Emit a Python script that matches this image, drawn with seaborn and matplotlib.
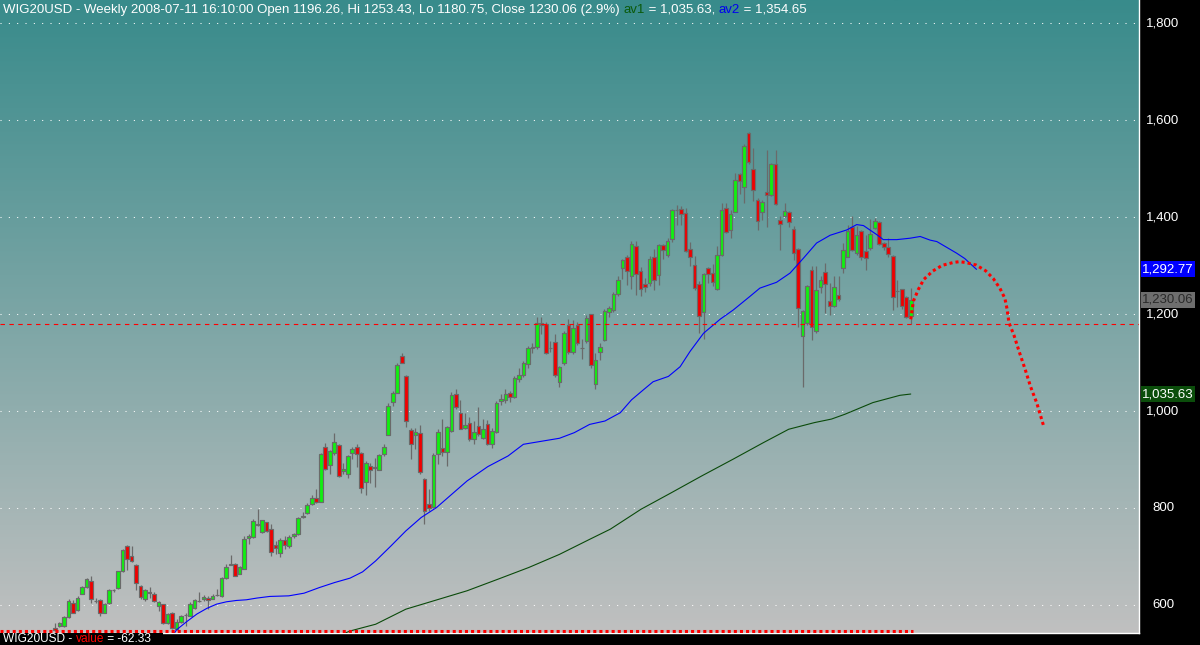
import numpy as np
import pandas as pd
import matplotlib
matplotlib.use("Agg")
import matplotlib.pyplot as plt
import matplotlib.transforms as mtransforms
from matplotlib import font_manager
from matplotlib.patches import Rectangle
import seaborn as sns

# weekly candles, index 0 = first bar on the left
opens = [554, 558, 558, 575, 605, 591, 624, 637, 651, 609,
         610, 585, 604, 631, 635, 670, 723, 701, 684, 640,
         613, 627, 624, 598, 602, 563, 585, 551, 565, 579,
         578, 595, 608, 613, 615, 613, 622, 620, 657, 684,
         686, 665, 675, 738, 740, 766, 752, 771, 757, 725,
         708, 734, 722, 742, 746, 783, 791, 808, 822, 813,
         927, 889, 915, 931, 876, 870, 915, 926, 915, 854,
         887, 884, 880, 913, 952, 1020, 1038, 1115, 1073, 962,
         951, 956, 861, 808, 803, 913, 925, 917, 959, 1036,
         997, 966, 975, 942, 970, 944, 973, 932, 958, 1022,
         1023, 1038, 1030, 1066, 1074, 1098, 1131, 1132, 1182, 1180,
         1131, 1142, 1061, 1099, 1177, 1123, 1177, 1131, 1144, 1200,
         1057, 1122, 1147, 1205, 1209, 1241, 1295, 1318, 1280, 1341,
         1289, 1262, 1264, 1319, 1281, 1343, 1322, 1355, 1415, 1417,
         1408, 1334, 1302, 1263, 1204, 1295, 1285, 1252, 1322, 1420,
         1374, 1412, 1489, 1462, 1574, 1499, 1435, 1412, 1452, 1445,
         1510, 1395, 1402, 1411, 1376, 1334, 1156, 1182, 1291, 1166,
         1256, 1287, 1228, 1218, 1240, 1295, 1319, 1380, 1326, 1372,
         1331, 1336, 1378, 1391, 1347, 1339, 1321, 1249, 1252, 1235,
         1196.26]
highs = [563, 565, 578, 613, 611, 620, 639, 657, 661, 616,
         613, 604, 633, 633, 671, 717, 725, 723, 686, 642,
         633, 637, 628, 609, 603, 585, 587, 572, 580, 585,
         607, 613, 627, 621, 620, 624, 633, 659, 685, 703,
         688, 681, 743, 747, 778, 798, 776, 772, 767, 732,
         738, 742, 745, 750, 782, 792, 810, 827, 839, 915,
         935, 921, 955, 933, 894, 909, 927, 932, 916, 898,
         894, 904, 911, 932, 1017, 1042, 1100, 1120, 1074, 966,
         966, 971, 862, 839, 915, 963, 985, 970, 1040, 1045,
         1023, 996, 989, 980, 1008, 985, 983, 966, 1022, 1035,
         1045, 1042, 1072, 1090, 1104, 1135, 1140, 1195, 1195, 1185,
         1145, 1160, 1093, 1165, 1190, 1188, 1185, 1150, 1198, 1200,
         1120, 1140, 1210, 1218, 1245, 1278, 1315, 1322, 1352, 1352,
         1298, 1275, 1320, 1335, 1346, 1345, 1357, 1418, 1425, 1423,
         1420, 1350, 1320, 1268, 1286, 1298, 1304, 1340, 1430, 1430,
         1415, 1491, 1491, 1552, 1576, 1543, 1440, 1436, 1539, 1512,
         1539, 1402, 1429, 1414, 1382, 1336, 1209, 1261, 1299, 1299,
         1278, 1306, 1264, 1278, 1278, 1347, 1385, 1403, 1383, 1374,
         1364, 1396, 1398, 1392, 1350, 1357, 1323, 1271, 1252, 1237,
         1253.43]
lows = [547, 556, 556, 574, 584, 589, 623, 635, 605, 604,
        578, 584, 602, 627, 633, 668, 673, 690, 632, 614,
        609, 616, 606, 589, 561, 561, 552, 549, 563, 558,
        577, 592, 606, 609, 592, 613, 620, 618, 655, 683,
        660, 664, 674, 726, 738, 764, 750, 752, 702, 705,
        700, 716, 718, 738, 744, 779, 788, 806, 810, 812,
        880, 870, 909, 865, 870, 863, 901, 886, 831, 828,
        853, 843, 878, 908, 951, 1010, 1037, 1099, 968, 901,
        922, 870, 767, 795, 801, 891, 908, 887, 958, 1004,
        963, 963, 939, 932, 949, 942, 931, 925, 955, 1012,
        1018, 1020, 1028, 1060, 1070, 1090, 1120, 1128, 1160, 1118,
        1122, 1070, 1050, 1095, 1118, 1118, 1136, 1108, 1141, 1090,
        1045, 1105, 1145, 1195, 1205, 1238, 1272, 1260, 1252, 1240,
        1238, 1246, 1258, 1250, 1260, 1315, 1318, 1350, 1385, 1385,
        1328, 1300, 1250, 1161, 1149, 1265, 1258, 1250, 1320, 1368,
        1357, 1410, 1448, 1429, 1510, 1433, 1374, 1395, 1381, 1443,
        1426, 1333, 1400, 1381, 1312, 1174, 1051, 1178, 1148, 1161,
        1244, 1203, 1199, 1216, 1227, 1285, 1318, 1330, 1323, 1312,
        1292, 1333, 1376, 1343, 1333, 1319, 1209, 1216, 1210, 1192,
        1180.75]
closes = [549, 563, 575, 609, 585, 616, 637, 655, 614, 608,
          585, 602, 632, 632, 670, 715, 695, 692, 647, 618,
          632, 626, 609, 606, 563, 583, 554, 565, 577, 580,
          602, 610, 609, 618, 610, 620, 622, 657, 680, 685,
          661, 678, 736, 742, 774, 767, 775, 753, 709, 719,
          735, 725, 740, 746, 779, 784, 806, 822, 813, 911,
          882, 918, 937, 866, 882, 908, 923, 911, 841, 893,
          880, 885, 909, 927, 1011, 1038, 1096, 1100, 979, 933,
          958, 874, 795, 801, 909, 958, 917, 968, 1034, 1008,
          964, 972, 942, 958, 953, 964, 932, 960, 1018, 1025,
          1035, 1030, 1068, 1074, 1100, 1130, 1132, 1182, 1178, 1120,
          1131, 1075, 1091, 1161, 1122, 1171, 1140, 1131, 1192, 1096,
          1106, 1133, 1206, 1212, 1241, 1271, 1311, 1290, 1344, 1283,
          1252, 1256, 1315, 1271, 1342, 1333, 1352, 1415, 1415, 1407,
          1331, 1318, 1254, 1196, 1283, 1284, 1266, 1322, 1416, 1370,
          1406, 1477, 1474, 1547, 1514, 1457, 1392, 1431, 1446, 1510,
          1427, 1387, 1413, 1390, 1326, 1213, 1206, 1258, 1174, 1251,
          1271, 1263, 1218, 1256, 1231, 1333, 1372, 1333, 1364, 1318,
          1316, 1365, 1393, 1345, 1339, 1324, 1236, 1249, 1218, 1194,
          1230.06]

# moving averages (bar index, value)
av2_x = [26.4, 27.0, 29.2, 31.5, 33.7, 35.9, 38.1, 40.3, 42.5, 44.8, 47.7, 51.9,
         55.3, 58.7, 62.1, 65.5, 68.3, 71.2, 74.6, 77.9, 81.3, 84.7, 88.1, 91.5,
         96.1, 100.6, 104.0, 108.5, 112.0, 115.3, 118.7, 122.1, 125.5, 128.0,
         130.6, 132.8, 136.2, 138.8, 141.0, 144.0, 147.7, 150.6, 154.3, 156.5,
         160.2, 163.2, 166.2, 169.1, 172.1, 175.8, 178.0, 179.5, 182.5, 183.9,
         186.9, 189.9, 192.1, 194.3, 195.8, 198.0, 200.2, 202.0, 203.5, 204.6]
av2_v = [541, 549.6, 566, 582, 593.6, 602.5, 607.3, 610, 611.4, 614.9, 618.3, 619.5,
         625, 636.6, 647, 656, 669, 691.6, 722.5, 753.4, 781, 801.5, 829, 856.5,
         886, 908, 932, 939, 944.4, 956, 973, 980, 997, 1023.6,
         1044, 1061, 1072, 1092, 1123.5, 1161, 1190, 1209, 1237, 1254,
         1266, 1285, 1316, 1347, 1363, 1374, 1385, 1383, 1364, 1354,
         1354, 1357, 1360.5, 1353, 1350, 1338, 1326, 1315, 1302, 1292.77]
av1_x = [64.0, 65.5, 71.2, 77.9, 84.7, 91.5, 98.4, 105.2, 112.0, 118.7, 123.3,
         130.1, 136.9, 143.6, 150.5, 157.3, 162.9, 168.6, 172.4, 175.4, 181.6,
         187.6, 190.0]
av1_v = [541, 547, 561, 592, 611, 630, 654, 678, 705, 736, 757,
         798, 832.4, 866.8, 901, 935.5, 963, 976.7, 984, 994, 1018,
         1033, 1035.63]

# hand-drawn projection
proj_x = [190.0, 190.6, 191.7, 192.9, 194.9, 197.0, 199.5, 200.8, 202.1, 204.5,
          206.6, 208.3, 209.8, 210.9, 211.4, 211.8, 212.9, 214.1, 215.4, 216.6,
          218.0, 219.5]
proj_v = [1189.7, 1227.5, 1251.5, 1272, 1289.3, 1301, 1307, 1308.5, 1307, 1301.7,
          1290, 1274, 1253.6, 1233, 1210.3, 1182.8, 1157.4, 1122.4, 1086.6, 1050.9,
          1016.6, 969.9]

grid_levels = [600, 800, 1000, 1200, 1400, 1600, 1800]
grid_labels = ["600", "800", "1,000", "1,200", "1,400", "1,600", "1,800"]
last_low = 1180.75
last_close = 1230.06
av1_last = 1035.63
av2_last = 1292.77
value_line = 546.5

sns.set_style("white")
fams = {f.name for f in font_manager.fontManager.ttflist}
if "Liberation Sans Narrow" in fams:
    font, fs = "Liberation Sans Narrow", 10
else:
    font, fs = "Liberation Sans", 9.5
plt.rcParams["font.family"] = [font, "DejaVu Sans"]

W, H = 1200, 645
fig = plt.figure(figsize=(12, 6.45), dpi=100, facecolor="black")
ax = fig.add_axes([0, 12 / H, 1139 / W, 633 / H])

xmin, xmax = -12.21, 240.68
ymin, ymax = 542.9, 1848.1

# background gradient teal -> grey
top = np.array([56, 139, 139]) / 255
bot = np.array([192, 192, 192]) / 255
t = np.linspace(0, 1, 256)[:, None, None]
grad = top * (1 - t) + bot * t
ax.imshow(grad, extent=[xmin, xmax, ymin, ymax], aspect="auto", zorder=0)

for v in grid_levels:
    ax.axhline(v, color="white", lw=0.75, ls=(0, (1, 7)), zorder=1)

df = pd.DataFrame({"o": opens, "h": highs, "l": lows, "c": closes})
df["i"] = np.arange(len(df))
up = df[df.c >= df.o]
dn = df[df.c < df.o]
edge = "#6a6a6a"
ax.vlines(df.i, df.l, df.h, color=edge, lw=0.9, zorder=2)
ax.bar(up.i, up.c - up.o, bottom=up.o, width=0.8, color="#10f010",
       edgecolor=edge, lw=0.85, zorder=3)
ax.bar(dn.i, dn.o - dn.c, bottom=dn.c, width=0.8, color="#f00000",
       edgecolor=edge, lw=0.85, zorder=3)

sns.lineplot(x=av2_x, y=av2_v, ax=ax, color="#0000ff", lw=0.8, sort=False,
             estimator=None, zorder=4)
sns.lineplot(x=av1_x, y=av1_v, ax=ax, color="#0a4a0a", lw=0.8, sort=False,
             estimator=None, zorder=4)

ax.axhline(last_low, color="red", lw=0.8, ls=(0, (4, 4)), zorder=4)
ax.plot(proj_x, proj_v, color="red", lw=2.2, ls=(0, (1, 1)), zorder=5)
ax.hlines(value_line, xmin, 190.5, color="red", lw=2.2, ls=(0, (1, 1)), zorder=5)

ax.set_xlim(xmin, xmax)
ax.set_ylim(ymin, ymax)
ax.set_xticks([])
ax.set_yticks([])
for s in ["left", "top"]:
    ax.spines[s].set_visible(False)
for s in ["right", "bottom"]:
    ax.spines[s].set_color("white")
    ax.spines[s].set_linewidth(1)

# right-hand price labels
trans = mtransforms.blended_transform_factory(fig.transFigure, ax.transData)
for v, lab in zip(grid_levels, grid_labels):
    ax.text(1163 / W, v, lab, transform=trans, ha="center", va="center",
            color="white", fontsize=fs, clip_on=False)

boxes = [(av2_last, "1,292.77", "#0000ff", "white"),
         (last_close, "1,230.06", "#6e6e6e", "#2a2a2a"),
         (av1_last, "1,035.63", "#0b4d0b", "white")]
for v, lab, bg, fg in boxes:
    ax.add_patch(Rectangle((1141 / W, v - 16.5), 54 / W, 33, transform=trans,
                           facecolor=bg, edgecolor="none", clip_on=False, zorder=6))
    ax.text(1168 / W, v, lab, transform=trans, ha="center", va="center",
            color=fg, fontsize=fs, clip_on=False, zorder=7)

fig.add_artist(Rectangle((0, 0), 163 / W, 12.5 / H, transform=fig.transFigure,
                         facecolor="black", edgecolor="none", zorder=5))

renderer = fig.canvas.get_renderer()


def text_width(s, size):
    tmp = fig.text(0, 0, s + "|", fontsize=size)
    w1 = tmp.get_window_extent(renderer=renderer).width
    tmp.set_text("|")
    w2 = tmp.get_window_extent(renderer=renderer).width
    tmp.remove()
    return w1 - w2


def write_parts(parts, x_px, y_fig, size):
    prefix = ""
    for s, col in parts:
        x = (x_px + text_width(prefix, size)) / W
        fig.text(x, y_fig, s, color=col, fontsize=size, va="baseline", zorder=8)
        prefix += s


write_parts([("WIG20USD - Weekly 2008-07-11 16:10:00 Open 1196.26, Hi 1253.43, "
              "Lo 1180.75, Close 1230.06 (2.9%) ", "white"),
             ("av1", "#0a5a0a"), (" = 1,035.63, ", "white"),
             ("av2", "#0000ee"), (" = 1,354.65", "white")],
            3, 1 - 12.7 / H, fs)
write_parts([("WIG20USD - ", "white"), ("value", "red"), (" = -62.33", "white")],
            3, 2.5 / H, fs * 0.9)

fig.savefig("out.png", dpi=100, facecolor="black")
